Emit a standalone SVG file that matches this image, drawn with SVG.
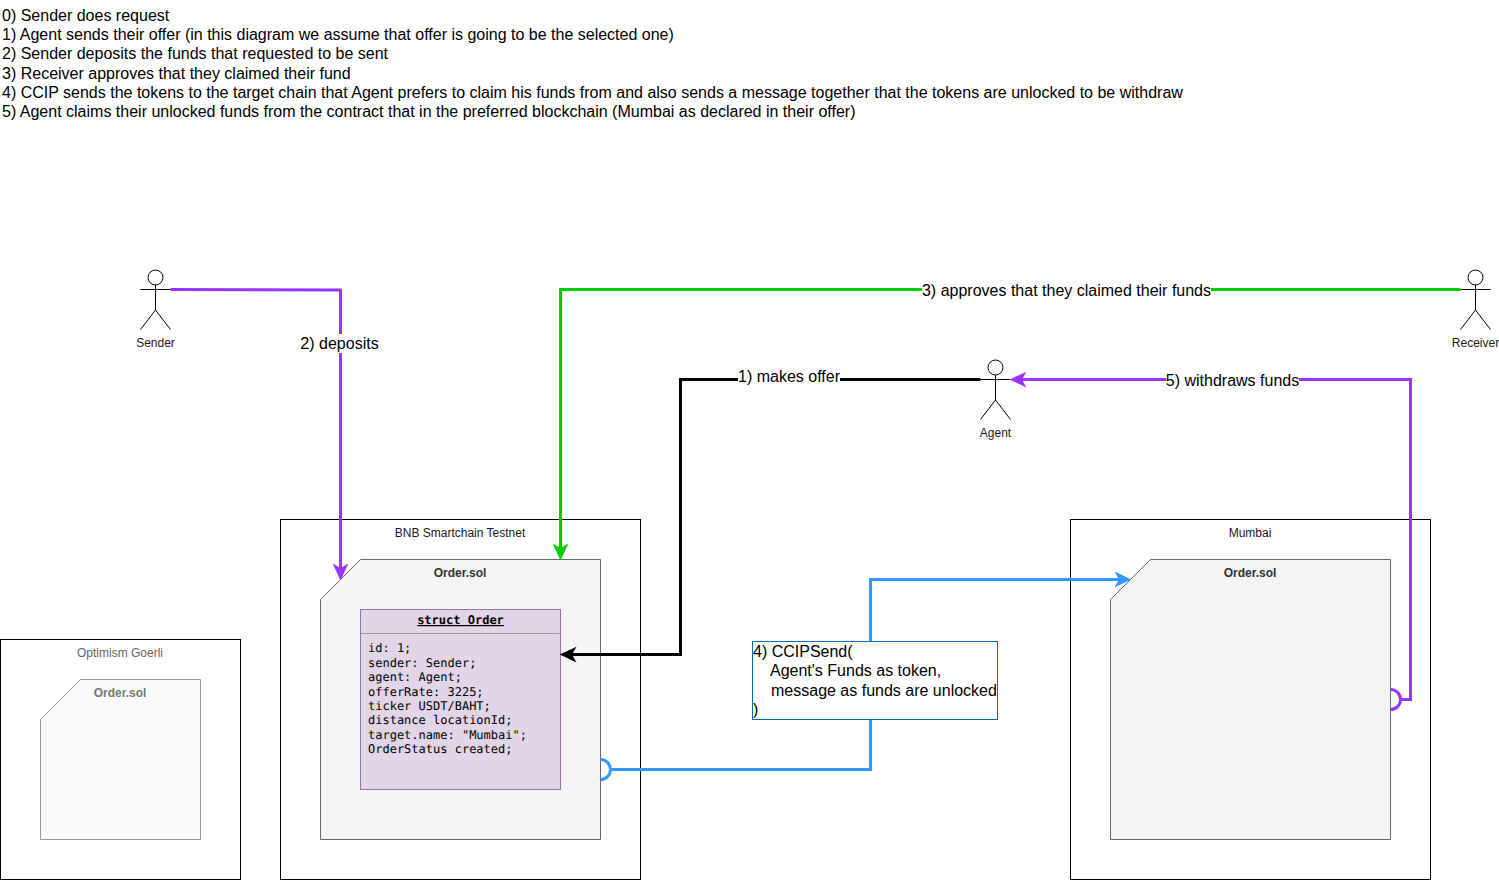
<svg xmlns="http://www.w3.org/2000/svg" width="1499" height="881" viewBox="0 0 1499 881">
<style>
text{font-family:"Liberation Sans",Arial,sans-serif;fill:#000}
.t16{font-size:16px}
.t11{font-size:12px;text-anchor:middle;fill:#1a1a1a}
.lbl{font-size:16px;text-anchor:middle}
.bg{fill:#fff;stroke:none}
.cont{fill:#fff;stroke:#000;stroke-width:1}
.card{fill:#f5f5f5;stroke:#666;stroke-width:1}
.cardt{font-size:12px;font-weight:bold;text-anchor:middle;fill:#333}
.actor{fill:none;stroke:#000;stroke-width:1}
.mono{font-family:"DejaVu Sans Mono","Liberation Mono",monospace;font-size:12px;text-rendering:geometricPrecision}
.c{fill:none;stroke-width:3}
.purple{stroke:#9933ff}.green{stroke:#00cc00}.black{stroke:#000}.blue{stroke:#3399ff}
</style>
<defs>
<marker id="aPurple" markerUnits="userSpaceOnUse" markerWidth="18" markerHeight="18" viewBox="0 -8 16 16" refX="4" refY="0" orient="auto"><path d="M0-7 15 0 0 7 4 0Z" fill="#9933ff"/></marker>
<marker id="aGreen" markerUnits="userSpaceOnUse" markerWidth="18" markerHeight="18" viewBox="0 -8 16 16" refX="4" refY="0" orient="auto"><path d="M0-7 15 0 0 7 4 0Z" fill="#00cc00"/></marker>
<marker id="aBlack" markerUnits="userSpaceOnUse" markerWidth="18" markerHeight="18" viewBox="0 -8 16 16" refX="4" refY="0" orient="auto"><path d="M0-7 15 0 0 7 4 0Z" fill="#000"/></marker>
<marker id="aBlue" markerUnits="userSpaceOnUse" markerWidth="18" markerHeight="18" viewBox="0 -8 16 16" refX="4" refY="0" orient="auto"><path d="M0-7 15 0 0 7 4 0Z" fill="#3399ff"/></marker>
</defs>
<rect width="1499" height="881" fill="#fff"/>
<g id="notes" class="t16">
<text x="2" y="21">0) Sender does request</text>
<text x="2" y="40">1) Agent sends their offer (in this diagram we assume that offer is going to be the selected one)</text>
<text x="2" y="59">2) Sender deposits the funds that requested to be sent</text>
<text x="2" y="79">3) Receiver approves that they claimed their fund</text>
<text x="2" y="98">4) CCIP sends the tokens to the target chain that Agent prefers to claim his funds from and also sends a message together that the tokens are unlocked to be withdraw</text>
<text x="2" y="117">5) Agent claims their unlocked funds from the contract that in the preferred blockchain (Mumbai as declared in their offer)</text>
</g>
<g id="optimism">
<rect class="cont" x="0.5" y="639.5" width="240" height="240"/>
<text class="t11" x="120" y="657" style="fill:#666">Optimism Goerli</text>
<path d="M80.500 679.500H200.500V839.500H40.500V719.500Z" fill="#fafafa" stroke="#999"/>
<text class="cardt" x="120" y="697" style="fill:#777">Order.sol</text>
</g>
<g id="bnb">
<rect class="cont" x="280.500" y="519.500" width="360" height="360"/>
<text class="t11" x="460" y="537">BNB Smartchain Testnet</text>
<path class="card" d="M360.500 559.500H600.500V839.500H320.500V599.500Z"/>
<text class="cardt" x="460" y="577">Order.sol</text>
</g>
<g id="struct-order">
<rect x="360.500" y="609.500" width="200" height="180" fill="#e1d5e7" stroke="#9673a6"/>
<path d="M360.500 633.500H559.500" stroke="#999" fill="none"/>
<text class="mono" x="460.500" y="624" text-anchor="middle" font-weight="bold" text-decoration="underline">struct Order</text>
<text class="mono" x="368" y="652">id: 1;</text>
<text class="mono" x="368" y="667">sender: Sender;</text>
<text class="mono" x="368" y="681">agent: Agent;</text>
<text class="mono" x="368" y="696">offerRate: 3225;</text>
<text class="mono" x="368" y="710">ticker USDT/BAHT;</text>
<text class="mono" x="368" y="724">distance locationId;</text>
<text class="mono" x="368" y="739">target.name: "Mumbai";</text>
<text class="mono" x="368" y="753">OrderStatus created;</text>
</g>
<g id="mumbai">
<rect class="cont" x="1070.500" y="519.500" width="360" height="360"/>
<text class="t11" x="1250" y="537">Mumbai</text>
<path class="card" d="M1150.500 559.500H1390.500V839.500H1110.500V599.500Z"/>
<text class="cardt" x="1250" y="577">Order.sol</text>
</g>
<g id="sender">
<circle class="actor" cx="155.500" cy="277.500" r="7.500"/>
<path class="actor" d="M155.500 285V310M140.500 289.500H170.500M155.500 310 140.500 329.500M155.500 310 170.500 329.500"/>
<text class="t11" x="155.500" y="347">Sender</text>
</g>
<g id="agent">
<circle class="actor" cx="995.500" cy="367.500" r="7.500"/>
<path class="actor" d="M995.500 375V400M980.500 379.500H1010.500M995.500 400 980.500 419.500M995.500 400 1010.500 419.500"/>
<text class="t11" x="995.500" y="437">Agent</text>
</g>
<g id="receiver">
<circle class="actor" cx="1475.500" cy="277.500" r="7.500"/>
<path class="actor" d="M1475.500 285V310M1460.500 289.500H1490.500M1475.500 310 1460.500 329.500M1475.500 310 1490.500 329.500"/>
<text class="t11" x="1475.500" y="347">Receiver</text>
</g>
<g id="connectors">
<path class="c purple" marker-end="url(#aPurple)" d="M170.500 289.500 340.500 290V568"/>
<path class="c green" marker-end="url(#aGreen)" d="M1460.500 289.500H560.500V548"/>
<path class="c black" marker-end="url(#aBlack)" d="M980.500 379.500H680.500V654.500H572"/>
<path class="c blue" marker-end="url(#aBlue)" d="M611 769.500H870.500V579.500H1119"/>
<path class="c blue" d="M600.500 759.500A10 10 0 0 1 600.500 779.500"/>
<path class="c purple" marker-end="url(#aPurple)" d="M1401 699.500H1410.500V379.500H1022"/>
<path class="c purple" d="M1390.500 689.500A10 10 0 0 1 1390.500 709.500"/>
<rect class="bg" x="300" y="334" width="79" height="19"/>
<text class="lbl" x="339.500" y="349">2) deposits</text>
<rect class="bg" x="922" y="281" width="289" height="19"/>
<text class="lbl" x="1066.500" y="296">3) approves that they claimed their funds</text>
<rect class="bg" x="738" y="367" width="102" height="19"/>
<text class="lbl" x="789" y="382">1) makes offer</text>
<rect class="bg" x="1166" y="371" width="133" height="19"/>
<text class="lbl" x="1232.500" y="386">5) withdraws funds</text>
</g>
<g id="ccip-send">
<rect x="752.500" y="641.500" width="245" height="78" fill="#fff" stroke="#006eaf"/>
<text class="t16" x="753" y="657">4) CCIPSend(</text>
<text class="t16" x="770" y="676">Agent's Funds as token,</text>
<text class="t16" x="771" y="696">message as funds are unlocked</text>
<text class="t16" x="753" y="715">)</text>
</g>
</svg>
